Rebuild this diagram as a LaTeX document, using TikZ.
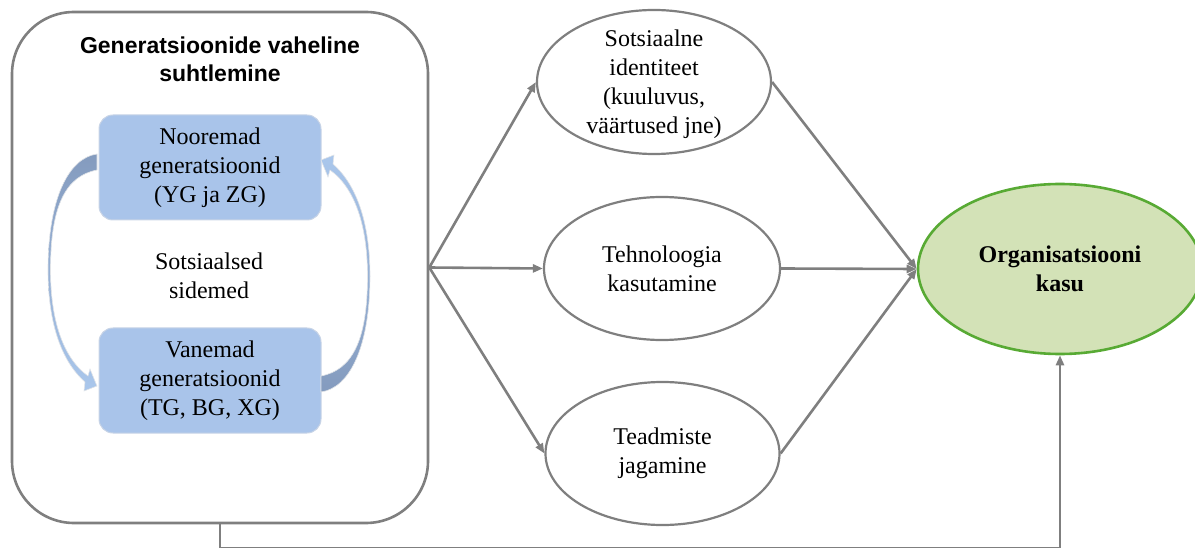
\documentclass[tikz,border=0pt]{standalone}
\usepackage{fontspec}
\setmainfont{Liberation Serif}
\newfontfamily\titlefont{Liberation Sans}
\usetikzlibrary{shapes.geometric,arrows.meta,positioning}
\definecolor{linegray}{RGB}{127,127,127}
\definecolor{boxblue}{RGB}{169,196,234}
\definecolor{boxedge}{RGB}{200,212,230}
\definecolor{arrowdark}{RGB}{132,155,190}
\definecolor{arrowmid}{RGB}{214,218,224}
\definecolor{arrowlight}{RGB}{170,199,236}
\definecolor{arrowrim}{RGB}{225,228,232}
\definecolor{kasufill}{RGB}{211,226,183}
\definecolor{kasuedge}{RGB}{88,170,52}
\tikzset{
  genbox/.style={rectangle, rounded corners=14pt, fill=boxblue, draw=boxedge, line width=1pt,
    minimum width=222pt, minimum height=105pt, align=center},
  factor/.style={ellipse, draw=linegray, line width=2.2pt, fill=white, inner sep=0pt,
    minimum width=236pt, minimum height=143pt},
  textlab/.style={align=center},
  link/.style={draw=linegray, line width=2.6pt, -{Triangle[length=10pt,width=8pt]}},
}
\begin{document}
\begin{tikzpicture}[x=1pt,y=-1pt,font=\fontsize{24}{29}\selectfont]
  \useasboundingbox (0,0) rectangle (1195,548);
  % left frame
  \node[draw=linegray, line width=2.6pt, rounded corners=62pt, minimum width=416pt, minimum height=511pt] (frame) at (220,267.5) {};
  \node[font=\titlefont\bfseries\fontsize{23}{28}\selectfont, align=center] (title) at (220,59) {Generatsioonide vaheline\\suhtlemine};
  \node[genbox] (young) at (210,167.5) {Nooremad\\generatsioonid\\(YG ja ZG)};
  \node[genbox] (old) at (210,380.5) {Vanemad\\generatsioonid\\(TG, BG, XG)};
  \node[align=center] (ties) at (209,276) {Sotsiaalsed\\sidemed};
  % circular arrows
  \shade[draw=arrowrim, line width=0.6pt, top color=arrowdark, middle color=arrowmid, bottom color=arrowlight]
    (97,154) .. controls (68,158) and (48,200) .. (48,270) .. controls (48,320) and (60,360) .. (85,382)
    -- (84,391) -- (97,386) -- (90,369) -- (88,376)
    .. controls (63,358) and (50.5,320) .. (50.5,270) .. controls (50.5,205) and (66,176) .. (97,170) -- cycle;
  \shade[draw=arrowrim, line width=0.6pt, top color=arrowlight, middle color=arrowmid, bottom color=arrowdark]
    (321,392) .. controls (350,388) and (370,346) .. (370,276) .. controls (370,226) and (358,186) .. (333,164)
    -- (334,155) -- (321,160) -- (328,177) -- (330,170)
    .. controls (355,188) and (367.5,226) .. (367.5,276) .. controls (367.5,341) and (352,370) .. (321,376) -- cycle;
  % factors
  \node[factor, minimum width=234pt, minimum height=144pt, label={[textlab,yshift=-2pt]center:Sotsiaalne\\identiteet\\(kuuluvus,\\väärtused jne)}] (ident) at (654,82) {};
  \node[factor, label={[textlab]center:Tehnoloogia\\kasutamine}] (tech) at (662,268.5) {};
  \node[factor, minimum width=234pt, label={[textlab]center:Teadmiste\\jagamine}] (know) at (662.5,453.5) {};
  \node[ellipse, draw=kasuedge, fill=kasufill, line width=2.6pt, inner sep=0pt, minimum width=284pt, minimum height=170pt,
    label={[textlab,font=\bfseries\fontsize{24}{29}\selectfont]center:Organisatsiooni\\kasu}] (kasu) at (1060,269) {};
  % connectors
  \foreach \f in {ident,tech,know}{
    \draw[link] (frame.east) -- (\f.west);
    \draw[link] (\f.east) -- (kasu.west);
  }
  \draw[link] (frame.south) -- ++(0,23.5) -| (kasu.south);
\end{tikzpicture}
\end{document}
